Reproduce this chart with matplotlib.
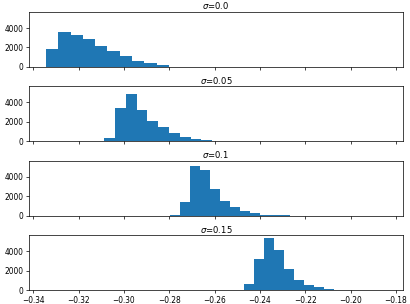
import numpy as np
import matplotlib
matplotlib.use("Agg")
import matplotlib.pyplot as plt

titles = [r"$\sigma$=0.0", r"$\sigma$=0.05", r"$\sigma$=0.1", r"$\sigma$=0.15"]

# bin start, bin width, counts for each panel
starts = [-0.3343, -0.3087, -0.2796, -0.2469]
widths = [0.00541, 0.00476, 0.00441, 0.00441]
counts = [
    [1790, 3550, 3240, 2830, 2100, 1590, 1070, 550, 340, 210],
    [360, 3470, 4920, 3260, 2120, 1500, 880, 470, 260, 140],
    [70, 1450, 5150, 4700, 2730, 1480, 860, 450, 240, 70, 60, 50],
    [620, 3210, 5390, 4150, 2180, 1040, 520, 310, 100],
]

plt.rcParams["xtick.labelsize"] = 8.5
plt.rcParams["ytick.labelsize"] = 8.5

fig, axes = plt.subplots(4, 1, sharex=True, sharey=True,
                         figsize=(410 / 64, 304 / 64), dpi=64)
fig.subplots_adjust(left=0.071, right=0.983, top=0.9605, bottom=0.046, hspace=0.36)

for ax, t, s, w, c in zip(axes, titles, starts, widths, counts):
    edges = s + w * np.arange(len(c) + 1)
    ax.hist(edges[:-1] + w / 2, bins=edges, weights=c, color="#1f77b4")
    ax.set_title(t, fontsize=9.5, pad=3)
    ax.tick_params(length=3)

axes[-1].set_xlim(-0.3418, -0.1769)
axes[-1].set_xticks(np.round(np.arange(-0.34, -0.179, 0.02), 2))

fig.savefig("out.png", dpi=64)
